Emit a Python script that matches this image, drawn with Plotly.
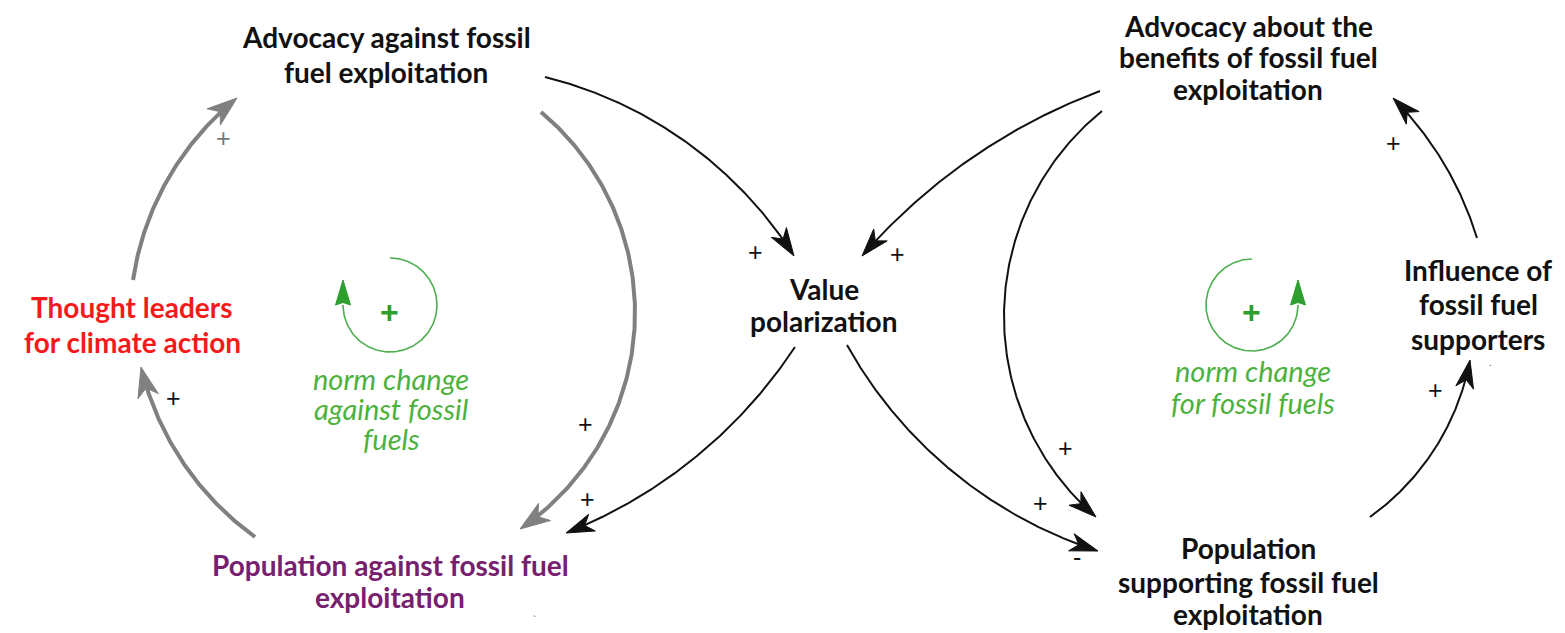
import numpy as np
import plotly.graph_objects as go

# ---------------- data ----------------
node_lines = [
    ["Advocacy against fossil", "fuel exploitation"],
    ["Thought leaders", "for climate action"],
    ["Population against fossil fuel", "exploitation"],
    ["Value", "polarization"],
    ["Advocacy about the", "benefits of fossil fuel", "exploitation"],
    ["Influence of", "fossil fuel", "supporters"],
    ["Population", "supporting fossil fuel", "exploitation"],
]
node_x = [386, 132, 390, 824, 1248, 1478, 1248]
node_line_y = [
    [37, 72],
    [307, 342],
    [565, 597],
    [289, 321],
    [26, 57, 89],
    [270, 304, 339],
    [548, 582, 614],
]
node_colors = ["#111111", "#F51A1A", "#76206E", "#111111", "#111111", "#111111", "#111111"]

# edges: start point, a point the arc passes through, arrow tip
edge_start = [(133, 280), (255, 537), (541, 112), (545, 77), (795, 347),
              (1100, 91), (1102, 111), (847, 345), (1370, 517), (1477, 238)]
edge_via = [(157, 200), (186, 467), (635, 311), (673, 133), (711, 444),
            (979, 153), (1004, 315), (922, 444), (1430, 456), (1450, 174)]
edge_tip = [(237, 98), (141, 367), (520, 529), (794, 256), (566, 533),
            (862, 256), (1096, 517), (1098, 551), (1470, 360), (1393, 98)]
edge_gray = [True, True, True, False, False, False, False, False, False, False]

pol_text = ["+", "+", "+", "+", "+", "+", "+", "+", "-", "+", "+"]
pol_x = [223, 173, 585, 587, 755, 897, 1065, 1040, 1077, 1435, 1393]
pol_y = [138, 398, 424, 499, 252, 254, 448, 503, 557, 390, 143]
pol_color = ["#777777"] + ["#111111"] * 10

stray_text = [".", "`"]
stray_x = [1490, 534]
stray_y = [362, 620]

loop_lines = [["norm change", "against fossil", "fuels"], ["norm change", "for fossil fuels"]]
loop_label_x = [391, 1253]
loop_label_y = [[378, 408, 438], [370, 402]]
loop_cx = [390, 1252]
loop_cy = [305, 305]
loop_r = [47, 46]
loop_a0 = [-90, -90]       # degrees, start of loop arc
loop_a1 = [180, -360]      # degrees, end of loop arc (arrow base)

GRAY = "#808080"
BLACK = "#111111"
GREEN_LINE = "#4DAF50"
GREEN_TEXT = "#4CB23C"
GREEN_DARK = "#2E9E2E"

NODE_FONT = 28
LOOP_FONT = 29
PAGE_OFFSET = 8   # default page margin of the html body

W, H = 1565, 633

fig = go.Figure()


def circle_through(p1, p2, p3):
    ax, ay = p1
    bx, by = p2
    cx, cy = p3
    d = 2 * (ax * (by - cy) + bx * (cy - ay) + cx * (ay - by))
    ux = ((ax**2 + ay**2) * (by - cy) + (bx**2 + by**2) * (cy - ay) + (cx**2 + cy**2) * (ay - by)) / d
    uy = ((ax**2 + ay**2) * (cx - bx) + (bx**2 + by**2) * (ax - cx) + (cx**2 + cy**2) * (bx - ax)) / d
    return ux, uy, np.hypot(ax - ux, ay - uy)


def arc_points(p1, p2, p3, n=200):
    ux, uy, r = circle_through(p1, p2, p3)
    a1 = np.arctan2(p1[1] - uy, p1[0] - ux)
    a2 = np.arctan2(p2[1] - uy, p2[0] - ux)
    a3 = np.arctan2(p3[1] - uy, p3[0] - ux)

    def norm(a):
        return a % (2 * np.pi)
    d13 = norm(a3 - a1)
    d12 = norm(a2 - a1)
    if d12 <= d13:
        t = a1 + np.linspace(0, d13, n)
    else:
        t = a1 - np.linspace(0, 2 * np.pi - d13, n)
    return ux + r * np.cos(t), uy + r * np.sin(t)


def arrow_head(tip, direction, length, half_w, color, notch_f=0.72):
    d = np.array(direction, dtype=float)
    d /= np.linalg.norm(d)
    nvec = np.array([-d[1], d[0]])
    tip = np.array(tip, dtype=float)
    base = tip - length * d
    notch = tip - notch_f * length * d
    pts = [tip, base + half_w * nvec, notch, base - half_w * nvec, tip]
    fig.add_trace(go.Scatter(x=[p[0] for p in pts], y=[p[1] for p in pts],
                             mode="lines", fill="toself",
                             fillcolor=color, line=dict(color=color, width=1),
                             hoverinfo="skip"))


def trim_to(xs, ys, tip, dist):
    dd = np.hypot(xs - tip[0], ys - tip[1])
    close = dd < dist
    idx = np.argmax(close) if close.any() else len(xs)
    return xs[:idx], ys[:idx]


# causal links
for s, v, t, g in zip(edge_start, edge_via, edge_tip, edge_gray):
    xs, ys = arc_points(s, v, t)
    color = GRAY if g else BLACK
    width = 4 if g else 2
    hl, hw = (30, 10.5) if g else (28, 9)
    direction = (xs[-1] - xs[-4], ys[-1] - ys[-4])
    tx, ty = trim_to(xs, ys, t, hl * 0.6)
    fig.add_trace(go.Scatter(x=tx, y=ty, mode="lines",
                             line=dict(color=color, width=width),
                             hoverinfo="skip"))
    arrow_head(t, direction, hl, hw, color)

# loop markers
for cx, cy, r, a0, a1 in zip(loop_cx, loop_cy, loop_r, loop_a0, loop_a1):
    t = np.radians(np.linspace(a0, a1, 200))
    xs = cx + r * np.cos(t)
    ys = cy + r * np.sin(t)
    fig.add_trace(go.Scatter(x=xs, y=ys, mode="lines",
                             line=dict(color=GREEN_LINE, width=1.6),
                             hoverinfo="skip"))
    ang = np.radians(a1)
    sign = 1 if a1 > a0 else -1
    direction = (-np.sin(ang) * sign, np.cos(ang) * sign)
    L = 25
    tip = (xs[-1] + L * direction[0], ys[-1] + L * direction[1])
    arrow_head(tip, direction, L, 7.5, GREEN_DARK, notch_f=0.9)
    fig.add_annotation(x=cx - 1, y=cy + 7, text="<b>+</b>", showarrow=False,
                       font=dict(family="Liberation Sans", size=32, color=GREEN_DARK),
                       xanchor="center", yanchor="middle")

# node labels (one annotation per text line)
for lines, x, ys, c in zip(node_lines, node_x, node_line_y, node_colors):
    for ln, y in zip(lines, ys):
        fig.add_annotation(x=x, y=y, text="<b>" + ln + "</b>", showarrow=False,
                           font=dict(family="Lato", size=NODE_FONT, color=c),
                           xanchor="center", yanchor="middle")

# loop labels
for lines, x, ys in zip(loop_lines, loop_label_x, loop_label_y):
    for ln, y in zip(lines, ys):
        fig.add_annotation(x=x, y=y, text="<i>" + ln + "</i>", showarrow=False,
                           font=dict(family="Lato", size=LOOP_FONT, color=GREEN_TEXT),
                           xanchor="center", yanchor="middle")

# polarity signs
for tx, x, y, c in zip(pol_text, pol_x, pol_y, pol_color):
    fig.add_annotation(x=x, y=y, text=tx, showarrow=False,
                       font=dict(family="Liberation Sans", size=25, color=c),
                       xanchor="center", yanchor="middle")

# small stray marks present in the original picture
for tx, x, y in zip(stray_text, stray_x, stray_y):
    fig.add_annotation(x=x, y=y, text=tx, showarrow=False,
                       font=dict(family="Liberation Sans", size=10, color="#555555"),
                       xanchor="center", yanchor="middle")

fig.update_layout(
    width=W - PAGE_OFFSET, height=H - PAGE_OFFSET, autosize=False,
    margin=dict(l=0, r=0, t=0, b=0),
    paper_bgcolor="white", plot_bgcolor="white",
    showlegend=False,
    xaxis=dict(range=[PAGE_OFFSET, W], visible=False, fixedrange=True),
    yaxis=dict(range=[H, PAGE_OFFSET], visible=False, fixedrange=True),
)

fig.write_html("out.html")
